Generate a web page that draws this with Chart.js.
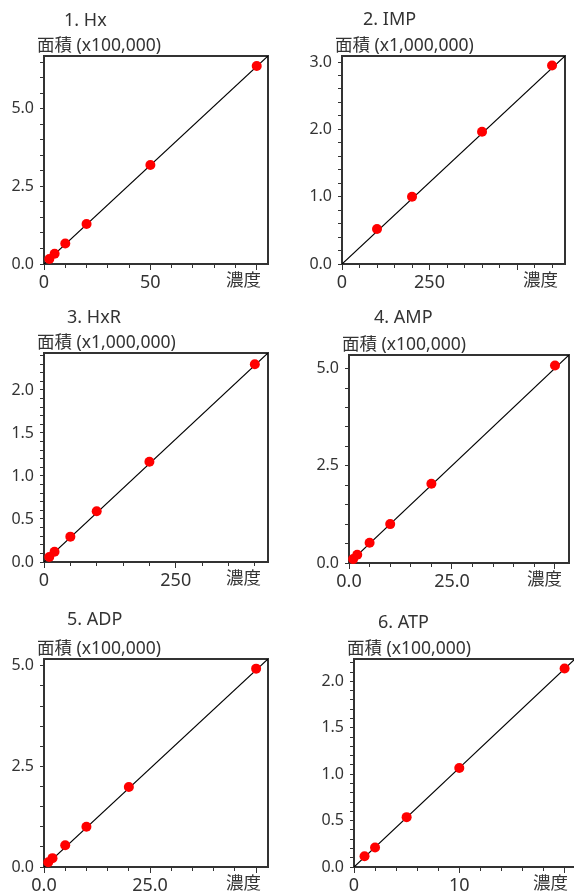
<!DOCTYPE html>
<html>
<head>
<meta charset="utf-8">
<script src="https://cdn.jsdelivr.net/npm/chart.js@4.4.1/dist/chart.umd.min.js"></script>
<style>
	body { margin: 0; background: #fff; width: 574px; height: 894px; overflow: hidden; position: relative; }
	canvas { position: absolute; }
</style>
</head>
<body>
<canvas id="c1" width="287" height="300" style="left:0px;top:0px"></canvas>
<canvas id="c2" width="287" height="300" style="left:287px;top:0px"></canvas>
<canvas id="c3" width="287" height="300" style="left:0px;top:295px"></canvas>
<canvas id="c4" width="287" height="300" style="left:287px;top:295px"></canvas>
<canvas id="c5" width="287" height="300" style="left:0px;top:595px"></canvas>
<canvas id="c6" width="300" height="300" style="left:287px;top:595px"></canvas>
<script>
// concentration (濃度) vs peak area (面積), one set per compound
const hxConc = [2.5, 5, 10, 20, 50, 100]
const hxArea = [0.16, 0.33, 0.66, 1.29, 3.19, 6.38]
const hxFit = [[0, 0], [105.3, 6.7]]

const impConc = [100, 200, 400, 600]
const impArea = [0.52, 1.0, 1.965, 2.95]
const impFit = [[0, 0], [637, 3.09]]

const hxrConc = [10, 20, 50, 100, 200, 400]
const hxrArea = [0.058, 0.12, 0.295, 0.59, 1.165, 2.3]
const hxrFit = [[0, 0], [425, 2.43]]

const ampConc = [1, 2, 5, 10, 20, 50]
const ampArea = [0.1, 0.21, 0.52, 1.0, 2.04, 5.08]
const ampFit = [[0, 0], [53.4, 5.35]]

const adpConc = [1, 2, 5, 10, 20, 50]
const adpArea = [0.12, 0.22, 0.54, 1.0, 1.99, 4.93]
const adpFit = [[0, 0], [52.8, 5.17]]

const atpConc = [1, 2, 5, 10, 20]
const atpArea = [0.115, 0.21, 0.537, 1.067, 2.137]
const atpFit = [[0, 0], [20.99, 2.24]]

// tick steps [minor, major] and label decimals
const xSteps = [[10, 50], [50, 250], [50, 250], [5, 25], [5, 25], [2, 10]]
const ySteps = [[0.5, 2.5], [0.2, 1], [0.1, 0.5], [0.5, 2.5], [0.5, 2.5], [0.1, 0.5]]
const xDecimals = [0, 0, 0, 1, 1, 0]

const titles = ['1. Hx', '2. IMP', '3. HxR', '4. AMP', '5. ADP', '6. ATP']
const units = ['面積 (x100,000)', '面積 (x1,000,000)', '面積 (x1,000,000)', '面積 (x100,000)', '面積 (x100,000)', '面積 (x100,000)']
const xTitle = '濃度'

// plot box inside each canvas: left, top, right, bottom + title offset
const boxes = [
	{ l: 44, t: 56, r: 268, b: 264, tx: 20, ty: 30 },
	{ l: 55, t: 56, r: 278, b: 264, tx: 21, ty: 31 },
	{ l: 44, t: 58, r: 268, b: 267, tx: 23, ty: 30 },
	{ l: 62, t: 60, r: 285, b: 268, tx: 25, ty: 32 },
	{ l: 44, t: 64, r: 268, b: 272, tx: 23, ty: 34 },
	{ l: 67, t: 64, r: 288, b: 272, tx: 24, ty: 31 },
]

const FONT = '"Noto Sans", "Noto Sans CJK JP", sans-serif'
const INK = '#333'
Chart.defaults.font.family = FONT
Chart.defaults.color = INK

const isMajor = (v, step) => Math.abs(v / step - Math.round(v / step)) < 1e-6

const panelText = {
	id: 'panelText',
	afterDraw(chart, args, opts) {
		const { ctx, chartArea: a } = chart
		ctx.save()
		ctx.fillStyle = INK
		ctx.textBaseline = 'alphabetic'
		ctx.textAlign = 'left'
		ctx.font = '18px ' + FONT
		ctx.fillText(opts.title, a.left + opts.tx, a.top - opts.ty)
		ctx.font = '17.5px ' + FONT
		ctx.fillText(opts.unit, a.left - 7, a.top - 5)
		ctx.textAlign = 'right'
		ctx.fillText(xTitle, a.right - 7, a.bottom + 22)
		ctx.restore()
	},
}

function makePanel(i, conc, area, fit) {
	const canvas = document.getElementById('c' + (i + 1))
	const box = boxes[i]
	const [xMinor, xMajor] = xSteps[i]
	const [yMinor, yMajor] = ySteps[i]
	const xMax = fit[1][0]
	const yMax = fit[1][1]

	new Chart(canvas.getContext('2d'), {
		type: 'scatter',
		plugins: [panelText],
		data: {
			datasets: [
				{
					data: conc.map((c, k) => ({ x: c, y: area[k] })),
					backgroundColor: '#ff0000',
					borderWidth: 0,
					pointRadius: 5,
					clip: false,
				},
				{
					data: fit.map((p) => ({ x: p[0], y: p[1] })),
					showLine: true,
					borderColor: '#000',
					borderWidth: 1.2,
					pointRadius: 0,
				},
			],
		},
		options: {
			responsive: false,
			animation: false,
			devicePixelRatio: 1,
			layout: { padding: { left: 0, top: box.t, right: canvas.width - box.r, bottom: 0 } },
			plugins: {
				legend: { display: false },
				tooltip: { enabled: false },
				panelText: { title: titles[i], unit: units[i], tx: box.tx, ty: box.ty },
			},
			scales: {
				x: {
					type: 'linear',
					position: 'bottom',
					min: 0,
					max: xMax,
					afterFit: (s) => { s.height = canvas.height - box.b },
					border: { color: INK, width: 2 },
					grid: {
						drawOnChartArea: false,
						tickLength: 6,
						tickColor: INK,
						tickWidth: 1,
						tickBorderDash: (ctx) => (ctx.tick && isMajor(ctx.tick.value, xMajor) ? [] : [3, 40]),
					},
					ticks: {
						stepSize: xMinor,
						autoSkip: false,
						includeBounds: false,
						maxRotation: 0,
						padding: 2,
						font: { size: 18 },
						callback: (v) => (isMajor(v, xMajor) && v < xMax * 0.75 ? v.toFixed(xDecimals[i]) : ''),
					},
				},
				y: {
					type: 'linear',
					position: 'left',
					min: 0,
					max: yMax,
					afterFit: (s) => { s.width = box.l },
					border: { color: INK, width: 2 },
					grid: {
						drawOnChartArea: false,
						tickLength: 4,
						tickColor: INK,
						tickWidth: 1,
						tickBorderDash: (ctx) => (ctx.tick && isMajor(ctx.tick.value, yMajor) ? [] : [3, 40]),
					},
					ticks: {
						stepSize: yMinor,
						autoSkip: false,
						includeBounds: false,
						padding: 6,
						font: { size: 16 },
						callback: (v) => (isMajor(v, yMajor) ? v.toFixed(1) : ''),
					},
				},
				xTop: {
					type: 'linear',
					position: 'top',
					border: { color: INK, width: 2 },
					grid: { display: false, drawTicks: false },
					ticks: { display: false },
				},
				yRight: {
					type: 'linear',
					position: 'right',
					border: { color: INK, width: 2 },
					grid: { display: false, drawTicks: false },
					ticks: { display: false },
				},
			},
		},
	})
}

makePanel(0, hxConc, hxArea, hxFit)
makePanel(1, impConc, impArea, impFit)
makePanel(2, hxrConc, hxrArea, hxrFit)
makePanel(3, ampConc, ampArea, ampFit)
makePanel(4, adpConc, adpArea, adpFit)
makePanel(5, atpConc, atpArea, atpFit)
</script>
</body>
</html>
